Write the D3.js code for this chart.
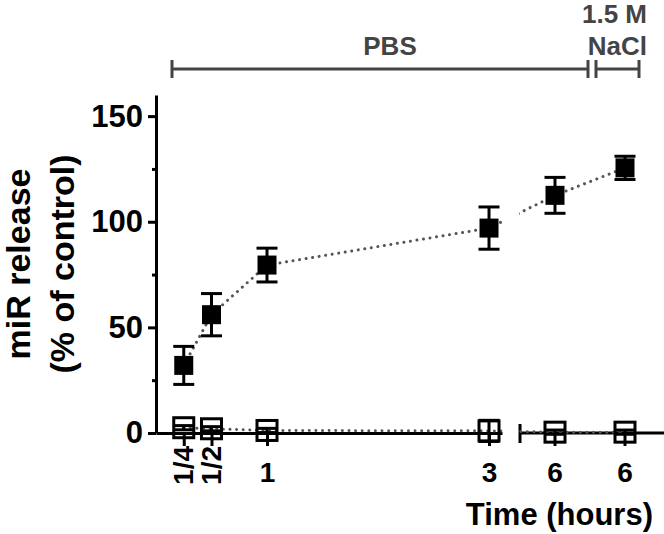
<!DOCTYPE html>
<html><head><meta charset="utf-8">
<script src="https://cdn.jsdelivr.net/npm/d3@7"></script>
<style>
body{margin:0;background:#fff}
svg{display:block}
text{font-family:"Liberation Sans",Arial,sans-serif;font-weight:bold}
</style>
</head><body>
<svg id="c" width="664" height="534"></svg>
<script>
// ---- data ----
const timeHours  = [0.25, 0.5, 1, 3, 6, 6];
const condition  = ["PBS", "PBS", "PBS", "PBS", "PBS", "NaCl"];
const tickLabels = ["1/4", "1/2", "1", "3", "6", "6"];
const filledMean = [32, 56, 79.5, 97, 112.5, 125.5];
const filledErr  = [9, 10, 8, 10, 8.5, 5.5];
const openMean   = [2.5, 2, 1.2, 1, 0.4, 0.4];
const openErr    = [1, 1, 1, 5, 1, 1];
const yTicks     = [0, 50, 100, 150];
const yMinor     = [25, 75, 125];
const yTitle     = ["miR release", "(% of control)"];
const xTitle     = "Time (hours)";
const groupLabels = [["PBS"], ["1.5 M", "NaCl"]];

// ---- layout ----
const svg = d3.select("#c");
const y = d3.scaleLinear().domain([0, 160]).range([433, 95]);
const x1 = d3.scaleLinear().domain([0, 3.117]).range([156, 502]);
const seg2Keys = ["PBS6", "NaCl6"];
const x2 = d3.scaleBand().domain(seg2Keys).range([520, 660]).padding(0);
const idx = d3.range(timeHours.length);
const inSeg1 = i => timeHours[i] <= 3;
const seg2Key = i => condition[i] === "NaCl" ? "NaCl6" : "PBS6";
const xpos = i => inSeg1(i) ? x1(timeHours[i]) : x2(seg2Key(i)) + x2.bandwidth() / 2;

const black = "#000";
const SW = 3;
const FF = '"Liberation Sans",Arial,sans-serif';

// ---- y axis ----
const gy = svg.append("g").attr("transform", `translate(${x1(0)},0)`)
  .call(d3.axisLeft(y).tickValues(yTicks).tickSize(8).tickSizeOuter(0).tickPadding(5));
gy.select(".domain").attr("stroke-width", SW).attr("stroke", black);
gy.selectAll(".tick line").attr("stroke-width", SW);
gy.selectAll(".tick text").attr("font-size", 31).attr("fill", black)
  .attr("font-family", FF).attr("font-weight", "bold");
const gym = svg.append("g").attr("transform", `translate(${x1(0)},0)`)
  .call(d3.axisLeft(y).tickValues(yMinor).tickSize(4).tickFormat(""));
gym.select(".domain").remove();
gym.selectAll(".tick line").attr("stroke-width", SW);

// ---- x axis segment 1 ----
const seg1Idx = idx.filter(inSeg1);
const gx1 = svg.append("g").attr("transform", `translate(0,${y(0)})`)
  .call(d3.axisBottom(x1).tickValues(seg1Idx.map(i => timeHours[i])).tickSize(13).tickSizeOuter(0)
    .tickPadding(16).tickFormat((d, k) => tickLabels[seg1Idx[k]]));
gx1.select(".domain").attr("stroke-width", SW).attr("stroke", black);
gx1.selectAll(".tick line").attr("stroke-width", SW);
gx1.selectAll(".tick text").attr("font-size", 28).attr("fill", black)
  .attr("font-family", FF).attr("font-weight", "bold")
  .each(function(d, k) {
    const lab = tickLabels[seg1Idx[k]];
    if (lab.includes("/")) {
      d3.select(this).attr("y", null).attr("dy", "0.35em")
        .attr("text-anchor", "end")
        .attr("transform", "translate(-1,13) rotate(-90)");
    }
  });

// ---- x axis segment 2 ----
const gx2 = svg.append("g").attr("transform", `translate(0,${y(0)})`)
  .call(d3.axisBottom(x2).tickSize(13).tickSizeOuter(0).tickPadding(16)
    .tickFormat((d) => tickLabels[idx.find(i => !inSeg1(i) && seg2Key(i) === d)]));
gx2.select(".domain").remove();
gx2.selectAll(".tick line").attr("stroke-width", SW);
gx2.selectAll(".tick text").attr("font-size", 28).attr("fill", black)
  .attr("font-family", FF).attr("font-weight", "bold");
gx2.append("line").attr("x1", x2.range()[0]).attr("x2", 664).attr("y1", 0).attr("y2", 0)
  .attr("stroke", black).attr("stroke-width", SW);
gx2.append("line").attr("x1", x2.range()[0]).attr("x2", x2.range()[0]).attr("y1", -9).attr("y2", 10)
  .attr("stroke", black).attr("stroke-width", SW);

// ---- clip for broken axis ----
const defs = svg.append("defs");
const cp = defs.append("clipPath").attr("id", "brk");
cp.append("rect").attr("x", 0).attr("y", 0).attr("width", x1.range()[1] + 0.5).attr("height", 534);
cp.append("rect").attr("x", x2.range()[0] - 1).attr("y", 0).attr("width", 664).attr("height", 534);

// ---- dotted lines ----
const line = d3.line().x(i => xpos(i));
const lines = svg.append("g").attr("clip-path", "url(#brk)");
[[openMean], [filledMean]].forEach(([arr]) => {
  lines.append("path").datum(idx)
    .attr("d", line.y(i => y(arr[i])))
    .attr("fill", "none").attr("stroke", "#555").attr("stroke-width", 3)
    .attr("stroke-linecap", "round").attr("stroke-dasharray", "0.01 6.6");
});

// ---- error bars ----
function errBars(mean, err) {
  const g = svg.append("g").attr("stroke", black).attr("stroke-width", SW);
  idx.forEach(i => {
    const cx = xpos(i), t = y(mean[i] + err[i]), b = y(mean[i] - err[i]);
    g.append("line").attr("x1", cx).attr("x2", cx).attr("y1", t).attr("y2", b);
    g.append("line").attr("x1", cx - 10.5).attr("x2", cx + 10.5).attr("y1", t).attr("y2", t);
    g.append("line").attr("x1", cx - 10.5).attr("x2", cx + 10.5).attr("y1", b).attr("y2", b);
  });
}
errBars(filledMean, filledErr);
errBars(openMean, openErr);

// ---- symbols ----
svg.append("g").selectAll("rect").data(idx).join("rect")
  .attr("x", i => xpos(i) - 9.5).attr("y", i => y(filledMean[i]) - 9.5)
  .attr("width", 19).attr("height", 19).attr("fill", black);
svg.append("g").selectAll("rect").data(idx).join("rect")
  .attr("x", i => xpos(i) - 10).attr("y", i => y(openMean[i]) - 10)
  .attr("width", 20).attr("height", 20).attr("fill", "none")
  .attr("stroke", black).attr("stroke-width", SW);

// ---- titles ----
svg.append("text").attr("x", 653).attr("y", 525).attr("text-anchor", "end")
  .attr("font-size", 31).attr("fill", black).text(xTitle);
const yt = svg.append("g").attr("transform", `translate(0,${(y.range()[0] + y.range()[1]) / 2}) rotate(-90)`);
yTitle.forEach((t, k) => {
  yt.append("text").attr("x", 0).attr("y", 30 + k * 44).attr("text-anchor", "middle")
    .attr("font-size", 34).attr("fill", black).text(t);
});

// ---- group annotations ----
const gray = "#444";
const ann = svg.append("g").attr("stroke", gray).attr("stroke-width", SW);
[[172, 588], [596, 639]].forEach(([a, b]) => {
  ann.append("line").attr("x1", a).attr("x2", b).attr("y1", 69).attr("y2", 69);
  ann.append("line").attr("x1", a).attr("x2", a).attr("y1", 60).attr("y2", 78);
  ann.append("line").attr("x1", b).attr("x2", b).attr("y1", 60).attr("y2", 78);
});
svg.append("text").attr("x", 390).attr("y", 55).attr("text-anchor", "middle")
  .attr("font-size", 26).attr("fill", gray).text(groupLabels[0][0]);
groupLabels[1].forEach((t, k) => {
  svg.append("text").attr("x", 647).attr("y", 23 + k * 32).attr("text-anchor", "end")
    .attr("font-size", 26).attr("fill", gray).text(t);
});
</script>
</body></html>
